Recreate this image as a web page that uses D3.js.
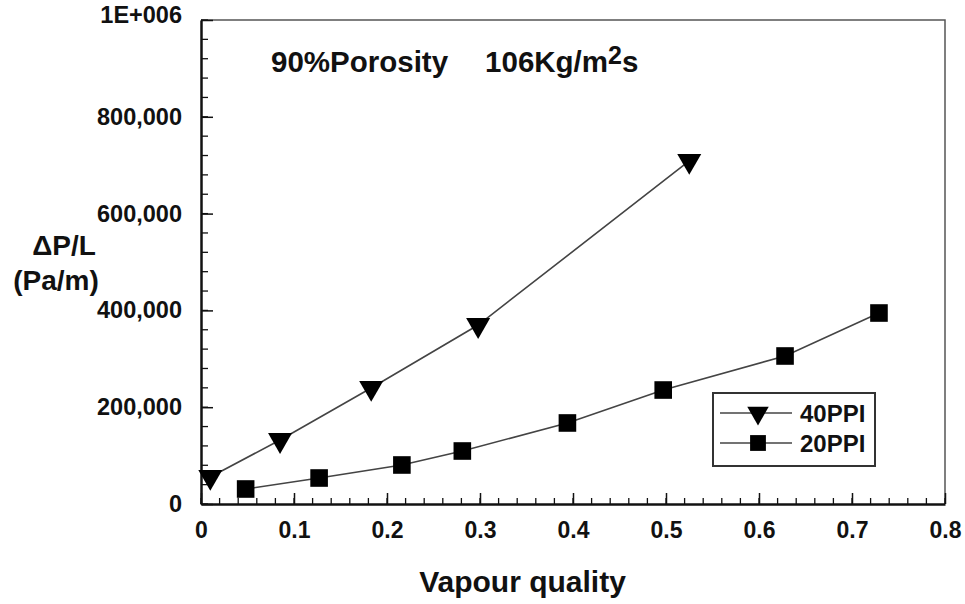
<!DOCTYPE html>
<meta charset="utf-8">
<script src="https://d3js.org/d3.v7.min.js"></script>
<style>
  body { margin: 0; background: #fff; }
  text { font-family: "Liberation Sans", Arial, sans-serif; font-weight: bold; fill: #111; }
</style>
<div id="my_dataviz"></div>
<script>
// data
var quality40 = [0.010, 0.085, 0.183, 0.298, 0.525];
var dp40      = [55800, 132200, 239700, 369800, 708700];
var quality20 = [0.048, 0.127, 0.216, 0.281, 0.394, 0.497, 0.628, 0.729];
var dp20      = [31000, 53700, 80600, 109500, 167400, 235500, 305800, 394600];
var xTicks = [0, 0.1, 0.2, 0.3, 0.4, 0.5, 0.6, 0.7, 0.8];
var yTicks = [0, 200000, 400000, 600000, 800000, 1000000];
var seriesNames = ["40PPI", "20PPI"];

var W = 965, H = 604;
var margin = {top: 20, left: 201, right: 20, bottom: 100},
    width = W - margin.left - margin.right,
    height = H - margin.top - margin.bottom;

var svg = d3.select("#my_dataviz")
  .append("svg")
    .attr("width", W)
    .attr("height", H)
  .append("g")
    .attr("transform", "translate(" + margin.left + "," + margin.top + ")");

var x = d3.scaleLinear().domain([0, 0.8]).range([0, width]);
var y = d3.scaleLinear().domain([0, 1000000]).range([height, 0]);

// frame: thin gray top/right
svg.append("path")
  .attr("d", "M0,0H" + width + "V" + height)
  .attr("fill", "none")
  .attr("stroke", "#555")
  .attr("stroke-width", 1.5);

// minor ticks
var xMinor = d3.range(0, 41).map(function(i) { return i * 0.02; });
var yMinor = d3.range(0, 26).map(function(i) { return i * 40000; });
svg.append("g").selectAll("line").data(xMinor).enter().append("line")
  .attr("x1", function(d) { return x(d); }).attr("x2", function(d) { return x(d); })
  .attr("y1", height).attr("y2", height - 6)
  .attr("stroke", "#111").attr("stroke-width", 1.3);
svg.append("g").selectAll("line").data(yMinor).enter().append("line")
  .attr("y1", function(d) { return y(d); }).attr("y2", function(d) { return y(d); })
  .attr("x1", 0).attr("x2", 7)
  .attr("stroke", "#111").attr("stroke-width", 1.3);

// X axis
var xAxis = svg.append("g")
  .attr("transform", "translate(0," + height + ")")
  .call(d3.axisBottom(x).tickValues(xTicks).tickSizeInner(-11).tickSizeOuter(0)
        .tickPadding(18).tickFormat(function(d) { return d === 0 ? "0" : d3.format(".1f")(d); }));
xAxis.select(".domain").attr("stroke", "#111").attr("stroke-width", 2.5);
xAxis.selectAll(".tick line").attr("stroke", "#111").attr("stroke-width", 1.5);
xAxis.selectAll(".tick text").style("font-size", "23px").attr("fill", "#111");

// Y axis
var yAxis = svg.append("g")
  .call(d3.axisLeft(y).tickValues(yTicks).tickSizeInner(-12).tickSizeOuter(0)
        .tickPadding(19).tickFormat(function(d) { return d === 1000000 ? "1E+006" : d3.format(",")(d); }));
yAxis.select(".domain").attr("stroke", "#111").attr("stroke-width", 2.5);
yAxis.selectAll(".tick line").attr("stroke", "#111").attr("stroke-width", 1.5);
yAxis.selectAll(".tick text").style("font-size", "23.5px").attr("fill", "#111");
yAxis.selectAll(".tick text").filter(function(d) { return d === 1000000; }).attr("dy", "0.1em");

// axis labels
svg.append("text")
  .attr("text-anchor", "middle")
  .attr("x", (418 + 627) / 2 - margin.left)
  .attr("y", 592 - margin.top)
  .style("font-size", "30px")
  .text("Vapour quality");
svg.append("text")
  .attr("text-anchor", "middle")
  .attr("x", 64 - margin.left)
  .attr("y", 255 - margin.top)
  .style("font-size", "28px")
  .text("\u0394P/L");
svg.append("text")
  .attr("text-anchor", "middle")
  .attr("x", 56 - margin.left)
  .attr("y", 290 - margin.top)
  .style("font-size", "28px")
  .text("(Pa/m)");

// title
var title = svg.append("text")
  .attr("x", 271 - margin.left)
  .attr("y", 72 - margin.top)
  .style("font-size", "29.5px");
title.append("tspan").text("90%Porosity");
title.append("tspan").attr("dx", 37).text("106Kg/m");
title.append("tspan").attr("dy", -8).style("font-size", "25px").text("2");
title.append("tspan").attr("dy", 8).text("s");

// lines
var data40 = quality40.map(function(q, i) { return {x: q, y: dp40[i]}; });
var data20 = quality20.map(function(q, i) { return {x: q, y: dp20[i]}; });
var line = d3.line()
  .x(function(d) { return x(d.x); })
  .y(function(d) { return y(d.y); });

[data40, data20].forEach(function(data) {
  svg.append("path")
    .datum(data)
    .attr("fill", "none")
    .attr("stroke", "#444")
    .attr("stroke-width", 1.6)
    .attr("d", line);
});

var tri = d3.symbol().type(d3.symbolTriangle).size(250);
var sq = d3.symbol().type(d3.symbolSquare).size(310);

svg.selectAll(".tri").data(data40).enter().append("path")
  .attr("d", tri)
  .attr("transform", function(d) { return "translate(" + x(d.x) + "," + y(d.y) + ") rotate(180)"; })
  .attr("fill", "#000");
svg.selectAll(".sq").data(data20).enter().append("path")
  .attr("d", sq)
  .attr("transform", function(d) { return "translate(" + x(d.x) + "," + y(d.y) + ")"; })
  .attr("fill", "#000");

// legend
var lg = svg.append("g").attr("transform", "translate(" + (713 - margin.left) + "," + (393 - margin.top) + ")");
lg.append("rect")
  .attr("width", 162).attr("height", 73)
  .attr("fill", "#fff")
  .attr("stroke", "#333").attr("stroke-width", 2);
seriesNames.forEach(function(name, i) {
  var ry = 20 + i * 30;
  lg.append("line")
    .attr("x1", 7).attr("x2", 79).attr("y1", ry).attr("y2", ry)
    .attr("stroke", "#444").attr("stroke-width", 1.4);
  lg.append("path")
    .attr("d", i === 0 ? d3.symbol().type(d3.symbolTriangle).size(200)() : d3.symbol().type(d3.symbolSquare).size(250)())
    .attr("transform", "translate(45," + ry + ")" + (i === 0 ? " rotate(180)" : ""))
    .attr("fill", "#000");
  lg.append("text")
    .attr("x", 87).attr("y", ry)
    .attr("dy", "0.36em")
    .style("font-size", "24px")
    .text(name);
});
</script>
